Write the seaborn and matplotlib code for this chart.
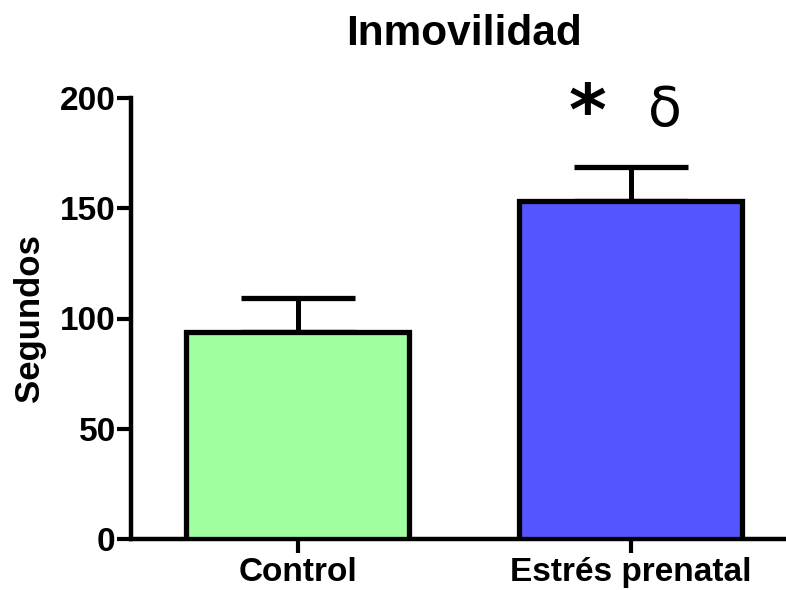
import matplotlib
matplotlib.use("Agg")
import matplotlib.pyplot as plt
import seaborn as sns
import pandas as pd

# Immobility time per group (mean and upper SEM)
groups = ["Control", "Estrés prenatal"]
means = [94, 153.5]
sems = [15.3, 15.2]
colors = ["#A0FFA0", "#5555FF"]
yticks = [0, 50, 100, 150, 200]

sns.set_style("ticks")
plt.rcParams["font.family"] = ["Liberation Sans", "DejaVu Sans"]
plt.rcParams["text.color"] = "black"
plt.rcParams["axes.labelcolor"] = "black"
plt.rcParams["xtick.color"] = "black"
plt.rcParams["ytick.color"] = "black"

df = pd.DataFrame({"grupo": groups, "segundos": means})

fig = plt.figure(figsize=(7.86, 5.90), dpi=100)
ax = fig.add_axes([131 / 786, 1 - 539 / 590, 666 / 786, (539 - 98) / 590])

sns.barplot(data=df, x="grupo", y="segundos", hue="grupo", palette=colors,
            order=groups, width=0.67, edgecolor="black", linewidth=3.8,
            saturation=1, errorbar=None, legend=False, ax=ax, zorder=3)

xpos = range(len(groups))
ax.errorbar(xpos, means, yerr=[[0] * len(sems), sems], fmt="none",
            ecolor="black", elinewidth=3.6, capsize=41, capthick=3.8, zorder=2)

ax.set_ylim(0, 200)
ax.set_xlim(-0.5, 1.5)
ax.set_yticks(yticks)
ax.set_xlabel("")
ax.set_ylabel("Segundos", fontsize=25, fontweight="bold", labelpad=10)
ax.set_title("Inmovilidad", fontsize=30.5, fontweight="bold", pad=38)

for lab in ax.get_xticklabels() + ax.get_yticklabels():
    lab.set_fontweight("bold")
ax.tick_params(axis="both", labelsize=24, width=3, length=10)
ax.tick_params(axis="x", pad=3)
ax.tick_params(axis="y", pad=1)

for side in ["left", "bottom"]:
    ax.spines[side].set_linewidth(3.2)
    ax.spines[side].set_color("black")
sns.despine(ax=ax)

# significance markers above the prenatal-stress bar
ax.annotate("*", xy=(0.872, 192), xycoords="data", ha="center", va="center",
            fontsize=52, fontweight="bold", annotation_clip=False,
            fontfamily="DejaVu Sans")
ax.annotate("δ", xy=(1.104, 194), xycoords="data", ha="center", va="center",
            fontsize=40, annotation_clip=False, fontfamily="DejaVu Sans")

fig.savefig("out.png", dpi=100)
